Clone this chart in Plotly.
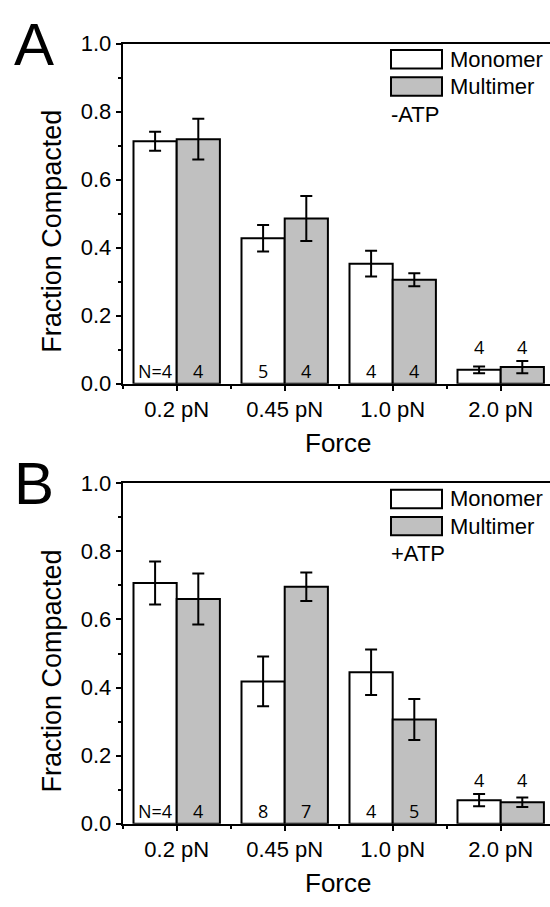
import plotly.graph_objects as go

# ---------------- data ----------------
categories = ["0.2 pN", "0.45 pN", "1.0 pN", "2.0 pN"]
series_names = ["Monomer", "Multimer"]

# Panel A (-ATP)
a_monomer = [0.713, 0.428, 0.353, 0.041]
a_monomer_err = [0.028, 0.039, 0.038, 0.010]
a_multimer = [0.719, 0.486, 0.306, 0.049]
a_multimer_err = [0.060, 0.066, 0.019, 0.018]
a_n_monomer = ["N=4", "5", "4", "4"]
a_n_multimer = ["4", "4", "4", "4"]

# Panel B (+ATP)
b_monomer = [0.707, 0.418, 0.445, 0.069]
b_monomer_err = [0.063, 0.073, 0.067, 0.018]
b_multimer = [0.660, 0.696, 0.306, 0.063]
b_multimer_err = [0.075, 0.042, 0.060, 0.014]
b_n_monomer = ["N=4", "8", "4", "4"]
b_n_multimer = ["4", "7", "5", "4"]

y_ticks = [0.0, 0.2, 0.4, 0.6, 0.8, 1.0]
panel_letters = ["A", "B"]
conditions = ["-ATP", "+ATP"]

# ---------------- layout helpers ----------------
W, H = 550, 907
FONT = "Liberation Sans, Arial, sans-serif"
NFONT = "Open Sans, sans-serif"
GRAY = "#c0c0c0"

def xp(px):
    return px / W

def yp(py):
    return 1 - py / H

AX_LEFT = 122.7
PX_PER_CAT = 108.0
x_max = -0.5 + (W - AX_LEFT) / PX_PER_CAT
panels = [
    dict(top=32.5, bottom=382.3),
    dict(top=484.7, bottom=834.7),
]

fig = go.Figure()

data_sets = [
    (a_monomer, a_monomer_err, a_multimer, a_multimer_err, a_n_monomer, a_n_multimer),
    (b_monomer, b_monomer_err, b_multimer, b_multimer_err, b_n_monomer, b_n_multimer),
]

x_idx = list(range(len(categories)))
annotations = []
shapes = []

for p, (mono, mono_e, mult, mult_e, n_mono, n_mult) in enumerate(data_sets):
    xa = "x" if p == 0 else "x2"
    ya = "y" if p == 0 else "y2"
    for name, vals, errs, fill in [
        (series_names[0], mono, mono_e, "white"),
        (series_names[1], mult, mult_e, GRAY),
    ]:
        fig.add_trace(go.Bar(
            x=x_idx, y=vals, name=name, xaxis=xa, yaxis=ya,
            marker=dict(color=fill, line=dict(color="black", width=2)),
            error_y=dict(type="data", array=errs, visible=True,
                         color="black", thickness=2, width=6),
            showlegend=False, offsetgroup=name,
        ))
    # N labels
    for i in x_idx:
        top_m = mono[i] + mono_e[i]
        top_u = mult[i] + mult_e[i]
        if max(top_m, top_u) < 0.12:
            ylab = max(top_m, top_u)
            anchor = "bottom"
        else:
            ylab = 0.037
            anchor = "middle"
        for dx, txt in [(-0.2, n_mono[i]), (0.2, n_mult[i])]:
            annotations.append(dict(
                x=i + dx, y=ylab, xref=xa, yref=ya, text=txt, showarrow=False,
                yanchor=anchor,
                font=dict(family=NFONT, size=18, color="black"),
            ))
    top = panels[p]["top"]
    bot = panels[p]["bottom"]
    # legend swatches
    for k, (fill, name) in enumerate([("white", series_names[0]), (GRAY, series_names[1])]):
        y0 = top + 6.5 + 28 * k
        y1 = y0 + 19
        shapes.append(dict(type="rect", xref="paper", yref="paper",
                           x0=xp(391), x1=xp(442), y0=yp(y1), y1=yp(y0),
                           fillcolor=fill, line=dict(color="black", width=2)))
        annotations.append(dict(x=xp(448), y=yp((y0 + y1) / 2), xref="paper", yref="paper",
                                text=name, showarrow=False, xanchor="left", yanchor="middle",
                                font=dict(family=FONT, size=22, color="black")))
    annotations.append(dict(x=xp(389), y=yp(top + 72.5), xref="paper", yref="paper",
                            text=conditions[p], showarrow=False, xanchor="left", yanchor="middle",
                            font=dict(family=FONT, size=22, color="black")))
    # axis titles
    annotations.append(dict(x=xp(338), y=yp(bot + 61), xref="paper", yref="paper",
                            text="Force", showarrow=False, xanchor="center", yanchor="middle",
                            font=dict(family=FONT, size=26, color="black")))
    annotations.append(dict(x=xp(52.5), y=yp(top + 193), xref="paper", yref="paper",
                            text="Fraction Compacted", showarrow=False, textangle=-90,
                            xanchor="center", yanchor="middle",
                            font=dict(family=FONT, size=27, color="black")))
    # panel letter
    annotations.append(dict(x=xp(34), y=yp(top + 0.5), xref="paper", yref="paper",
                            text=panel_letters[p], showarrow=False,
                            xanchor="center", yanchor="middle",
                            font=dict(family=FONT, size=60, color="black")))

def xaxis_cfg(anchor):
    return dict(
        domain=[xp(AX_LEFT), 1], range=[-0.5, x_max], anchor=anchor,
        tickmode="array", tickvals=x_idx, ticktext=categories,
        ticks="outside", ticklen=5, tickwidth=2, tickcolor="black",
        minor=dict(tickmode="array", tickvals=[-0.5, 0.5, 1.5, 2.5],
                   ticks="outside", ticklen=3, tickwidth=2, tickcolor="black"),
        showline=True, linewidth=2, linecolor="black", mirror=True,
        showgrid=False, zeroline=False, fixedrange=True,
        tickfont=dict(family=FONT, size=22, color="black"),
    )

def yaxis_cfg(p, anchor):
    top = panels[p]["top"]
    bot = panels[p]["bottom"]
    return dict(
        domain=[yp(bot), yp(top)], range=[0, 1], anchor=anchor,
        tickmode="array", tickvals=y_ticks, ticktext=[f"{v:.1f}" for v in y_ticks],
        ticks="outside", ticklen=5, tickwidth=2, tickcolor="black",
        minor=dict(tickmode="array", tickvals=[0.1, 0.3, 0.5, 0.7, 0.9],
                   ticks="outside", ticklen=3, tickwidth=2, tickcolor="black"),
        showline=True, linewidth=2, linecolor="black", mirror=False,
        showgrid=False, zeroline=False, fixedrange=True,
        tickfont=dict(family=FONT, size=22, color="black"),
    )

fig.update_layout(
    width=W, height=H,
    margin=dict(l=0, r=0, t=0, b=0),
    paper_bgcolor="white", plot_bgcolor="white",
    barmode="group", bargap=0.2, bargroupgap=0,
    xaxis=xaxis_cfg("y"), yaxis=yaxis_cfg(0, "x"),
    xaxis2=xaxis_cfg("y2"), yaxis2=yaxis_cfg(1, "x2"),
    annotations=annotations, shapes=shapes,
    showlegend=False,
)

fig.write_html("out.html", config={"displayModeBar": False})
